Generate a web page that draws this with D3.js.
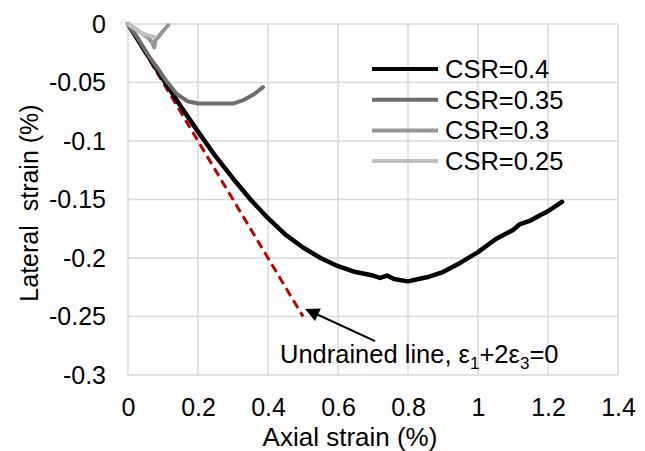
<!DOCTYPE html>
<html>
<head>
<meta charset="utf-8">
<script src="https://cdn.jsdelivr.net/npm/d3@7"></script>
<style>
  body { margin: 0; background: #fff; }
  text { font-family: "Liberation Sans", Arial, sans-serif; fill: #000; }
</style>
</head>
<body>
<div class="canvas"></div>
<script>
// tick values
const xTicks = [0, 0.2, 0.4, 0.6, 0.8, 1, 1.2, 1.4]
const yTicks = [0, -0.05, -0.1, -0.15, -0.2, -0.25, -0.3]

// series: [axial strain, lateral strain]
const csr04 = [[0,0],[0.05,-0.024],[0.1,-0.047],[0.15,-0.07],[0.2,-0.092],[0.25,-0.113],[0.3,-0.132],
  [0.35,-0.150],[0.4,-0.166],[0.45,-0.180],[0.5,-0.191],[0.55,-0.200],[0.6,-0.207],[0.65,-0.212],
  [0.7,-0.215],[0.72,-0.217],[0.74,-0.215],[0.76,-0.218],[0.8,-0.22],[0.83,-0.218],[0.86,-0.216],
  [0.9,-0.212],[0.95,-0.204],[1.0,-0.195],[1.05,-0.184],[1.1,-0.176],[1.12,-0.171],[1.15,-0.168],
  [1.18,-0.163],[1.2,-0.160],[1.24,-0.152]]
const csr035 = [[0,0],[0.03,-0.013],[0.063,-0.029],[0.09,-0.04],[0.11,-0.049],[0.14,-0.06],
  [0.17,-0.066],[0.2,-0.068],[0.25,-0.068],[0.3,-0.068],[0.33,-0.065],[0.36,-0.06],[0.386,-0.054]]
const csr03 = [[0,0],[0.03,-0.006],[0.055,-0.011],[0.07,-0.016],[0.075,-0.02],[0.078,-0.014],
  [0.09,-0.01],[0.1,-0.006],[0.115,-0.001]]
const csr025 = [[0,0],[0.02,-0.004],[0.04,-0.008],[0.06,-0.01],[0.075,-0.011]]

const seriesNames = ['CSR=0.4', 'CSR=0.35', 'CSR=0.3', 'CSR=0.25']
const seriesColors = ['#000000', '#6e6e6e', '#969696', '#c0c0c0']
const seriesWidths = [4.5, 4, 4, 4]
const seriesData = [csr04, csr035, csr03, csr025]

// undrained line eps1 + 2 eps3 = 0
const undrained = [[0, 0], [0.5, -0.25]]
const arrowTail = [0.706, -0.271]
const arrowHead = [0.51, -0.244]

const svg = d3.select('.canvas').append('svg')
    .attr('width', 645)
    .attr('height', 451)

const x = d3.scaleLinear().domain([0, 1.4]).range([128, 618])
const y = d3.scaleLinear().domain([-0.3, 0]).range([375, 24])

// grid
svg.append('g').selectAll('line').data(xTicks).join('line')
    .attr('x1', d => x(d)).attr('x2', d => x(d))
    .attr('y1', y(0)).attr('y2', y(-0.3))
    .attr('stroke', '#d9d9d9').attr('stroke-width', 1.5)
svg.append('g').selectAll('line').data(yTicks).join('line')
    .attr('x1', x(0)).attr('x2', x(1.4))
    .attr('y1', d => y(d)).attr('y2', d => y(d))
    .attr('stroke', '#d9d9d9').attr('stroke-width', 1.5)

// axes (labels only)
const fmt = d => String(d)

const xAxis = svg.append('g')
    .attr('transform', `translate(0, ${y(-0.3)})`)
    .call(d3.axisBottom(x).tickValues(xTicks).tickSize(0).tickPadding(23).tickFormat(fmt))
xAxis.select('.domain').remove()
xAxis.selectAll('text').style('font-size', '25px').attr('font-family', null)

const yAxis = svg.append('g')
    .attr('transform', `translate(${x(0)}, 0)`)
    .call(d3.axisLeft(y).tickValues(yTicks).tickSize(0).tickPadding(22).tickFormat(fmt))
yAxis.select('.domain').remove()
yAxis.selectAll('text').style('font-size', '25px').attr('font-family', null)

// axis titles
svg.append('text')
    .attr('x', 350).attr('y', 446)
    .attr('text-anchor', 'middle')
    .style('font-size', '26px')
    .text('Axial strain (%)')

svg.append('text')
    .attr('transform', 'translate(38, 203) rotate(-90)')
    .attr('text-anchor', 'middle')
    .style('font-size', '25px')
    .style('white-space', 'pre')
    .text('Lateral  strain (%)')

// undrained line
const line = d3.line().x(d => x(d[0])).y(d => y(d[1]))

svg.append('path')
    .attr('d', line(undrained))
    .attr('fill', 'none')
    .attr('stroke', '#c00000')
    .attr('stroke-width', 3)
    .attr('stroke-dasharray', '9,5')

// data series
seriesData.forEach((s, i) => {
  svg.append('path')
      .attr('d', line(s))
      .attr('fill', 'none')
      .attr('stroke', seriesColors[i])
      .attr('stroke-width', seriesWidths[i])
      .attr('stroke-linejoin', 'round')
      .attr('stroke-linecap', 'round')
})

// arrow
svg.append('defs').append('marker')
    .attr('id', 'arrow')
    .attr('viewBox', '0 0 10 10')
    .attr('refX', 9).attr('refY', 5)
    .attr('markerWidth', 8).attr('markerHeight', 7)
    .attr('orient', 'auto')
  .append('path')
    .attr('d', 'M0,0 L10,5 L0,10 z')
    .attr('fill', '#000')

svg.append('line')
    .attr('x1', x(arrowTail[0])).attr('y1', y(arrowTail[1]))
    .attr('x2', x(arrowHead[0])).attr('y2', y(arrowHead[1]))
    .attr('stroke', '#000').attr('stroke-width', 2)
    .attr('marker-end', 'url(#arrow)')

const ann = svg.append('text')
    .attr('x', 280).attr('y', 363)
    .style('font-size', '25.5px')
ann.append('tspan').text('Undrained line, ε')
ann.append('tspan').attr('dy', 6).style('font-size', '17px').text('1')
ann.append('tspan').attr('dy', -6).text('+2ε')
ann.append('tspan').attr('dy', 6).style('font-size', '17px').text('3')
ann.append('tspan').attr('dy', -6).text('=0')

// legend
const legend = svg.append('g')
seriesNames.forEach((name, i) => {
  const ly = 69 + i * 30.7
  legend.append('line')
      .attr('x1', 372).attr('x2', 438)
      .attr('y1', ly).attr('y2', ly)
      .attr('stroke', seriesColors[i])
      .attr('stroke-width', 4)
  legend.append('text')
      .attr('x', 445).attr('y', ly + 9)
      .style('font-size', '25.5px')
      .text(name)
})
</script>
</body>
</html>
